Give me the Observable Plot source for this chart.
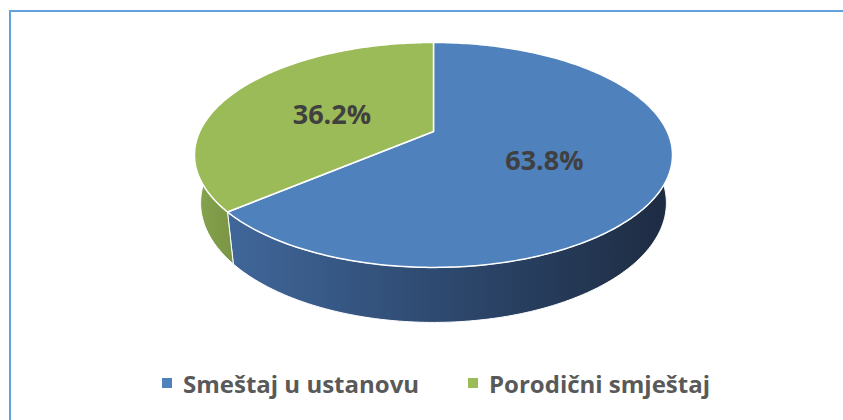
<!DOCTYPE html>
<html><head><meta charset="utf-8">
<script src="https://cdn.jsdelivr.net/npm/d3@7"></script>
<script src="https://cdn.jsdelivr.net/npm/@observablehq/plot@0.6"></script>
<style>
html,body{margin:0;padding:0;background:#fff;width:843px;height:420px;overflow:hidden;position:relative;font-family:"Open Sans",sans-serif}
#frame{position:absolute;left:9px;top:10px;width:900px;height:500px;border:2px solid #62A0DE;box-sizing:border-box}
#chart{position:absolute;left:0;top:0}
#legend{position:absolute;left:0;top:365px;width:843px;height:36px}
.item{position:absolute;top:0;display:flex;align-items:center;height:36px;font-weight:700;font-size:24px;color:#595959;white-space:nowrap}
.sw{width:10px;height:10px;margin-right:11px}
</style></head>
<body>
<svg width="0" height="0" style="position:absolute"><defs>
<linearGradient id="wall0" x1="0" x2="1" y1="0" y2="0">
<stop offset="0" stop-color="#40679A"/><stop offset="0.45" stop-color="#2F4B72"/><stop offset="1" stop-color="#1D2B41"/>
</linearGradient>
<linearGradient id="wall1" x1="0" x2="1" y1="0" y2="0">
<stop offset="0" stop-color="#86A34D"/><stop offset="1" stop-color="#7A9645"/>
</linearGradient>
</defs></svg>
<div id="frame"></div>
<div id="chart"></div>
<div id="legend"></div>
<script>
// ---- data ----
const categories = ["Smeštaj u ustanovu", "Porodični smještaj"];
const values = [63.8, 36.2];
const labels = ["63.8%", "36.2%"];

// ---- styles / layout ----
const topColors = ["#4F81BD", "#9BBB59"];
const wallFills = ["url(#wall0)", "url(#wall1)"];
const W = 843, H = 345;
const CX = 433, VY = 131, F = 995.8;           // screen placement of the pie
const ALPHA = 27.4 * Math.PI / 180, D = 4.26, DEPTH = 0.233; // 3D view

function proj(thetaDeg, r, depth) {
  const t = thetaDeg * Math.PI / 180, s = Math.sin(ALPHA), c = Math.cos(ALPHA);
  const yw = -depth;
  const X = r * Math.sin(t), Zc = r * Math.cos(t);
  const up = yw * c + Zc * s;
  const dep = D - yw * s + Zc * c;
  return {x: X / dep, y: up / dep};
}
function arc(a0, a1, r, depth) {
  const pts = [];
  const n = Math.max(2, Math.ceil(Math.abs(a1 - a0)));
  for (let i = 0; i <= n; i++) pts.push(proj(a0 + (a1 - a0) * i / n, r, depth));
  return pts;
}

const total = d3.sum(values);
let acc = 0;
const slices = values.map((v, i) => {
  const a0 = acc / total * 360; acc += v; const a1 = acc / total * 360;
  return {i, a0, a1, mid: (a0 + a1) / 2};
});

const marks = [];
// outer walls (front half only)
slices.forEach(s => {
  const w0 = Math.max(s.a0, 90), w1 = Math.min(s.a1, 270);
  if (w1 <= w0) return;
  const top = arc(w0, w1, 1, 0), bot = arc(w1, w0, 1, DEPTH);
  const poly = [...top, ...bot, top[0]];
  marks.push(Plot.line(poly, {x: "x", y: "y", curve: "linear", fill: wallFills[s.i], stroke: "white", strokeWidth: 1}));
});
// top faces
slices.forEach(s => {
  const c0 = proj(0, 0, 0);
  const poly = [c0, ...arc(s.a0, s.a1, 1, 0), c0];
  marks.push(Plot.line(poly, {x: "x", y: "y", curve: "linear", fill: topColors[s.i], stroke: "white", strokeWidth: 1.5, strokeLinejoin: "round"}));
});
// percentage labels
const labelData = slices.map(s => ({...proj(s.mid, 0.5, 0), text: labels[s.i]}));
marks.push(Plot.text(labelData, {x: "x", y: "y", text: "text", dy: 6, fill: "#404040", fontSize: 27, fontWeight: 700, fontFamily: "Open Sans", textAnchor: "middle", lineAnchor: "middle"}));

const chart = Plot.plot({
  width: W, height: H,
  margin: 0,
  x: {domain: [-CX / F, (W - CX) / F], range: [0, W], axis: null},
  y: {domain: [-(H - VY) / F, VY / F], range: [H, 0], axis: null},
  style: {background: "transparent", overflow: "visible"},
  marks
});
document.getElementById("chart").appendChild(chart);

// legend
const legendX = [162, 468];
const legend = document.getElementById("legend");
categories.forEach((name, i) => {
  const item = document.createElement("div");
  item.className = "item";
  item.style.left = legendX[i] + "px";
  const sw = document.createElement("span");
  sw.className = "sw"; sw.style.background = topColors[i];
  const tx = document.createElement("span");
  tx.textContent = name;
  item.appendChild(sw); item.appendChild(tx);
  legend.appendChild(item);
});
</script>
</body></html>
